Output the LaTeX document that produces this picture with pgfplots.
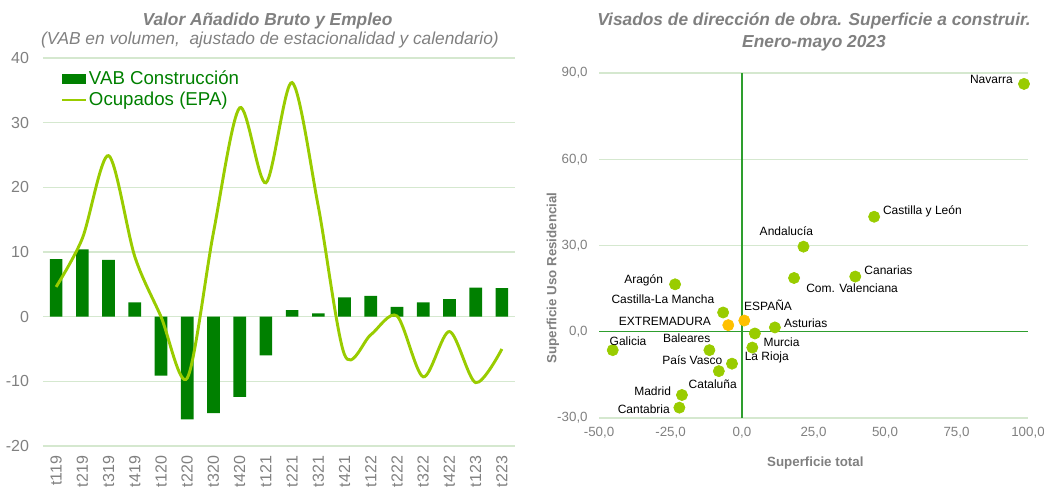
\documentclass[border=0pt]{standalone}
\usepackage{pgfplots}
\pgfplotsset{compat=1.18}
\usepackage{fontspec}
\setmainfont{Liberation Sans}
\definecolor{vabgreen}{HTML}{008000}
\definecolor{ocup}{HTML}{99CC00}
\definecolor{dotgreen}{HTML}{99CC00}
\definecolor{dotorange}{HTML}{FFC000}
\definecolor{gridgreen}{HTML}{D5E8CF}
\definecolor{zerogreen}{HTML}{2E9E2E}
\definecolor{txtgray}{HTML}{808080}
\newcommand{\regpt}[6]{\addplot[color=#6, only marks, mark=*, mark size=4.2pt, mark options={draw=#6, fill=#6, line width=0.5pt, solid}, nodes near coords={#3}, every node near coord/.append style={anchor=center, xshift=#4pt, yshift=#5pt, font=\fontsize{9}{11}\selectfont, text=black, inner sep=0pt}] coordinates {(#1,#2)};}
\begin{document}
\begin{tikzpicture}
\useasboundingbox (0,0) rectangle (783pt,366pt);
% titles
\node[font=\fontsize{13}{15}\selectfont\bfseries\itshape, text=txtgray] at (200.6pt,350.5pt) {Valor Añadido Bruto y Empleo};
\node[font=\fontsize{13}{15}\selectfont\itshape, text=txtgray] at (202.5pt,336pt) {(VAB en volumen,\ \ ajustado de estacionalidad y calendario)};
\node[font=\fontsize{13}{15}\selectfont\bfseries\itshape, text=txtgray] at (610.5pt,350.5pt) {Visados de dirección de obra. Superficie a construir.};
\node[font=\fontsize{13}{15}\selectfont\bfseries\itshape, text=txtgray] at (610.5pt,333.5pt) {Enero-mayo 2023};
\node[font=\fontsize{10}{12}\selectfont\bfseries, text=txtgray] at (611.5pt,18.5pt) {Superficie total};
\node[rotate=90, font=\fontsize{10}{12}\selectfont\bfseries, text=txtgray] at (414.75pt,157.5pt) {Superficie Uso Residencial};

% left chart
\begin{axis}[at={(32.25pt,31.5pt)}, anchor=south west, scale only axis,
  width=354pt, height=291pt,
  xmin=-0.5, xmax=17.5, ymin=-20, ymax=40,
  ytick={-20,-10,0,10,20,30,40},
  xtick={0,...,17},
  xticklabels={t119,t219,t319,t419,t120,t220,t320,t420,t121,t221,t321,t421,t122,t222,t322,t422,t123,t223},
  axis line style={draw=none}, major tick length=0pt,
  ymajorgrids, grid style={gridgreen, line width=0.8pt},
  tick label style={text=txtgray, font=\fontsize{12}{14}\selectfont},
  xticklabel style={rotate=90, anchor=east},
  xticklabel shift=4pt, yticklabel shift=7pt,
  legend style={draw=none, fill=none, at={(0.037,0.972)}, anchor=north west, inner sep=0pt,
    font=\fontsize{14}{16}\selectfont, text=vabgreen, row sep=1pt,
    nodes={inner sep=1.5pt}},
  legend cell align=left,
  /pgf/number format/assume math mode=true]
\addplot[ybar, bar width=9.5pt, fill=vabgreen, draw=none,
  legend image code/.code={\fill[vabgreen] (0pt,-4pt) rectangle (17.5pt,4pt);}]
  coordinates {(0,8.9) (1,10.4) (2,8.8) (3,2.2) (4,-9.1) (5,-15.9) (6,-14.9) (7,-12.4) (8,-6.0) (9,1.0) (10,0.5) (11,3.0) (12,3.2) (13,1.5) (14,2.2) (15,2.7) (16,4.5) (17,4.4)};
\addlegendentry{VAB Construcción}
\addplot[ocup, line width=2.2pt, smooth, tension=0.5, mark=none,
  legend image code/.code={\draw[ocup, line width=2.2pt] (0pt,0pt) -- (17.5pt,0pt);}]
  coordinates {(0,4.6) (1,12.1) (2,24.9) (3,9.3) (4,0.0) (5,-9.5) (6,13.0) (7,32.3) (8,20.7) (9,36.2) (10,17.0) (11,-5.9) (12,-2.8) (13,0.1) (14,-9.3) (15,-2.3) (16,-10.2) (17,-5.0)};
\addlegendentry{Ocupados (EPA)}
\end{axis}

% right chart
\begin{axis}[at={(449.25pt,52.5pt)}, anchor=south west, scale only axis,
  width=321.75pt, height=258.75pt,
  xmin=-50, xmax=100, ymin=-30, ymax=90,
  xtick={-50,-25,0,25,50,75,100}, ytick={-30,30,60,90},
  extra y ticks={0}, extra y tick style={grid=none},
  axis line style={draw=none}, major tick length=0pt,
  ymajorgrids, grid style={gridgreen, line width=0.8pt},
  tick label style={text=txtgray, font=\fontsize{10}{12}\selectfont},
  xticklabel shift=3pt, yticklabel shift=5pt,
  clip=false,
  /pgf/number format/.cd, fixed, fixed zerofill, precision=1, use comma, assume math mode=true]
\addplot[draw=zerogreen, line width=1.1pt, mark=none, forget plot] coordinates {(-50,0) (100,0)};
\addplot[draw=zerogreen, line width=1.1pt, mark=none, forget plot] coordinates {(0,-30) (0,90)};
\regpt{98.6}{86.2}{Navarra}{-24.5}{3}{dotgreen}
\regpt{46.2}{40.0}{Castilla y León}{36.2}{4}{dotgreen}
\regpt{21.5}{29.6}{Andalucía}{-12.8}{11.7}{dotgreen}
\regpt{39.6}{19.2}{Canarias}{24.9}{4.5}{dotgreen}
\regpt{18.2}{18.7}{Com. Valenciana}{43.5}{-7.5}{dotgreen}
\regpt{-23.4}{16.5}{Aragón}{-23.6}{3}{dotgreen}
\regpt{-6.6}{6.7}{Castilla-La Mancha}{-45.2}{10}{dotgreen}
\regpt{-4.8}{2.3}{EXTREMADURA}{-47.5}{2.7}{dotorange}
\regpt{0.8}{3.9}{ESPAÑA}{17.8}{11.3}{dotorange}
\regpt{11.5}{1.5}{Asturias}{23.1}{2.8}{dotgreen}
\regpt{4.5}{-0.6}{Murcia}{20}{-6.2}{dotgreen}
\regpt{3.6}{-5.5}{La Rioja}{10.9}{-7.5}{dotgreen}
\regpt{-45.2}{-6.4}{Galicia}{11.5}{7}{dotgreen}
\regpt{-11.4}{-6.4}{Baleares}{-17}{8.7}{dotgreen}
\regpt{-3.5}{-11.1}{País Vasco}{-29.8}{2.8}{dotgreen}
\regpt{-8.1}{-13.7}{Cataluña}{-4.6}{-10}{dotgreen}
\regpt{-21.0}{-22.0}{Madrid}{-22}{3.2}{dotgreen}
\regpt{-21.9}{-26.4}{Cantabria}{-26.7}{-1}{dotgreen}
\end{axis}
\end{tikzpicture}
\end{document}
